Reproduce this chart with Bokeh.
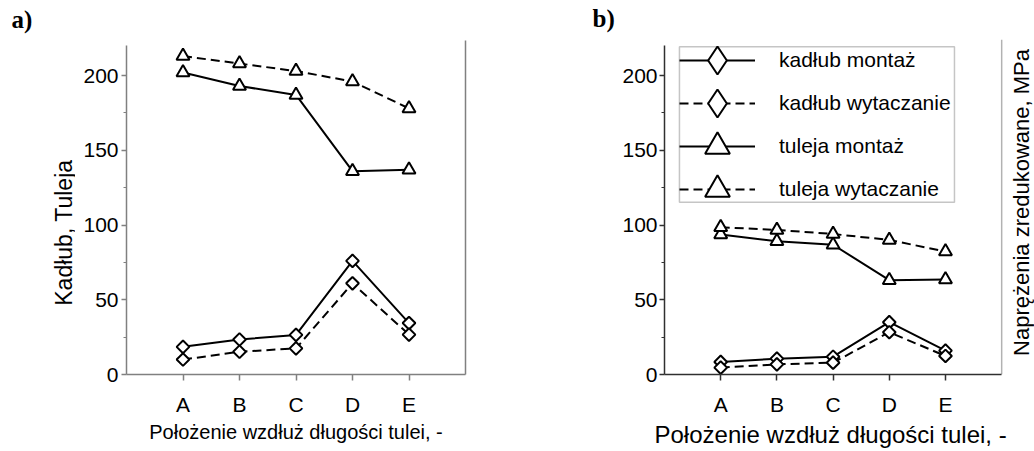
import math
from bokeh.plotting import figure
from bokeh.models import (Range1d, FixedTicker, LinearAxis, Label, Legend,
                          LegendItem, BoxAnnotation, Title)
from bokeh.layouts import row
from bokeh.embed import file_html
from bokeh.resources import INLINE

# ---- data ----
positions = ["A", "B", "C", "D", "E"]
y_ticks = [0, 50, 100, 150, 200]

a_kadlub_montaz = [18.5, 23.4, 26.5, 76.0, 34.4]
a_kadlub_wytaczanie = [10.0, 15.2, 17.5, 61.0, 26.7]
a_tuleja_montaz = [202.0, 193.0, 187.0, 136.0, 137.0]
a_tuleja_wytaczanie = [213.0, 208.0, 203.0, 196.0, 178.0]

b_kadlub_montaz = [8.4, 10.6, 11.9, 35.0, 16.0]
b_kadlub_wytaczanie = [4.6, 6.8, 7.9, 28.3, 12.4]
b_tuleja_montaz = [93.6, 89.2, 86.8, 63.1, 63.6]
b_tuleja_wytaczanie = [98.5, 96.7, 94.0, 90.0, 82.3]

series_names = ["kadłub montaż", "kadłub wytaczanie", "tuleja montaż", "tuleja wytaczanie"]
x_title = "Położenie wzdłuż długości tulei, -"
y_title_a = "Kadłub, Tuleja"
y_title_b = "Naprężenia zredukowane, MPa"

FONT = "Liberation Sans"
xs = [i + 1 for i in range(len(positions))]
X_END = len(positions) + 1
Y_TOP = 220
minor = [(y_ticks[i] + y_ticks[i + 1]) / 2 for i in range(len(y_ticks) - 1)] + [y_ticks[-1] + 25]
minor = [m for m in minor if m < Y_TOP]

STYLES = [("square", "solid", math.pi / 4, 9), ("square", "9 5", math.pi / 4, 9),
          ("triangle", "solid", 0, 13), ("triangle", "9 5", 0, 13)]

# ---- layout geometry (pixels) ----
H = 451
BOTTOM = 74                 # frame bottom at y = 377
Y0_PX = H - BOTTOM          # 377
PX_PER_UNIT = (Y0_PX - 45.5) / Y_TOP
Y_END = Y0_PX / PX_PER_UNIT  # frame reaches the top of the canvas
X_PX = 339.0                 # pixels for X_END units


def base_figure(width, axis_color, left, right, x_end, std):
    p = figure(width=width, height=H, output_backend="svg", toolbar_location=None,
               x_range=Range1d(0, x_end), y_range=Range1d(0, Y_END),
               min_border_left=left, min_border_right=right,
               min_border_top=0, min_border_bottom=BOTTOM)
    p.outline_line_color = None
    p.grid.visible = False

    xa = p.xaxis[0]
    xa.ticker = FixedTicker(ticks=xs)
    xa.bounds = (0, X_END)
    xa.major_label_overrides = {x: lab for x, lab in zip(xs, positions)}
    xa.major_tick_in = 0
    xa.major_tick_out = 6
    xa.major_label_standoff = 12
    xa.major_label_text_font = FONT
    xa.major_label_text_font_size = "21px"

    ya = p.yaxis[0]
    ya.ticker = FixedTicker(ticks=y_ticks, minor_ticks=minor)
    ya.bounds = (0, Y_TOP)
    ya.major_tick_in = 0
    ya.major_tick_out = 5
    ya.minor_tick_in = 0
    ya.minor_tick_out = 3
    ya.major_label_standoff = std
    ya.major_label_text_font = FONT
    ya.major_label_text_font_size = "21px"

    for ax in (xa, ya):
        ax.axis_line_color = axis_color
        ax.axis_line_width = 1.5
        ax.major_tick_line_color = axis_color
        ax.major_tick_line_width = 1.5
        ax.major_label_text_color = "black"
    xa.minor_tick_line_color = None
    ya.minor_tick_line_color = axis_color
    return p


def draw_series(p, series):
    renderers = []
    for ys, (mk, dash, ang, sz) in zip(series, STYLES):
        lr = p.line(xs, ys, line_color="black", line_width=2, line_dash=dash)
        sr = p.scatter(xs, ys, marker=mk, angle=ang, size=sz, fill_color="white",
                       line_color="black", line_width=2)
        renderers.append((lr, sr))
    return renderers


def below_title(text, size, align, offset):
    return Title(text=text, align=align, offset=offset, vertical_align="top",
                 standoff=4, text_font=FONT, text_font_style="normal",
                 text_font_size=size, text_color="black")


def strip(width):
    s = figure(width=width, height=H, output_backend="svg", toolbar_location=None,
               x_range=Range1d(0, width), y_range=Range1d(BOTTOM, H),
               x_axis_type=None, y_axis_type=None,
               min_border_left=0, min_border_right=0, min_border_top=0,
               min_border_bottom=BOTTOM)
    s.outline_line_color = None
    s.grid.visible = False
    return s


def tag(text, x, y_px):
    return Label(x=x, y=H - y_px, text=text, text_font="Liberation Serif",
                 text_font_style="bold", text_font_size="25px", text_color="black",
                 text_align="left", text_baseline="middle")


# ---------------- strip a: tag and y title of panel a ----------------
STRIP_A = 75
sa = strip(STRIP_A)
sa.add_layout(tag("a)", 11, 19))
sa.add_layout(Label(x=63, y=H - 234, text=y_title_a, text_font=FONT, text_font_size="23px",
                    text_color="black", angle=math.pi / 2, text_align="center",
                    text_baseline="middle"))

# ---------------- panel a ----------------
pa = base_figure(517 - STRIP_A, "#808080", 126 - STRIP_A, 52, X_END, 3)
draw_series(pa, [a_kadlub_montaz, a_kadlub_wytaczanie, a_tuleja_montaz, a_tuleja_wytaczanie])
pa.add_layout(LinearAxis(ticker=FixedTicker(ticks=[]), bounds=(0, 223.5),
                         axis_line_color="#808080", axis_line_width=1.5,
                         major_tick_line_color=None, minor_tick_line_color=None,
                         major_label_text_font_size="0px"), "right")
pa.add_layout(below_title(x_title, "20px", "center", 0), "below")

# ---------------- strip b: tag of panel b ----------------
STRIP_B = 102
sb = strip(STRIP_B)
sb.add_layout(tag("b)", 75, 18))

# ---------------- panel b ----------------
PB_W = 517 - STRIP_B
PB_LEFT = 662 - 517 - STRIP_B
x_end_b = X_END * (PB_W - PB_LEFT) / X_PX
pb = base_figure(PB_W, "#303030", PB_LEFT, 0, x_end_b, 2)
pb.add_layout(below_title(x_title, "24px", "left", -10), "below")
rends_b = draw_series(pb, [b_kadlub_montaz, b_kadlub_wytaczanie, b_tuleja_montaz, b_tuleja_wytaczanie])
# right border line of panel b
pb.add_layout(BoxAnnotation(left=X_END, right=X_END, bottom=0, top=224,
                            fill_alpha=0, line_color="#000000", line_width=1.5))
pb.add_layout(Label(x=357, y=Y0_PX - 205, x_units="screen", y_units="screen",
                    text=y_title_b, text_font=FONT, text_font_size="22px",
                    text_color="black", angle=math.pi / 2, text_align="center",
                    text_baseline="middle"))

# legend frame
pb.add_layout(BoxAnnotation(left=0.266, right=5.16, top=219.2, bottom=115.2,
                            fill_color="white", fill_alpha=1.0,
                            line_color="#404040", line_width=1.5))

# legend: one Legend per row so that the markers can be large
b_series = [b_kadlub_montaz, b_kadlub_wytaczanie, b_tuleja_montaz, b_tuleja_wytaczanie]
row_centers = [63, 106, 149, 192]
for i, (name, ys, (lr, sr)) in enumerate(zip(series_names, b_series, rends_b)):
    mk, dash, ang, sz = STYLES[i]
    if mk == "square":
        leg_r = pb.scatter(xs, ys, marker="diamond", size=sz, fill_color="white",
                           line_color="black", line_width=2, visible=False)
        gh = 70
    else:
        leg_r = sr
        gh = 62
    c = row_centers[i]
    vy = Y0_PX - c - gh / 2
    leg = Legend(items=[LegendItem(label=name, renderers=[lr, leg_r])],
                 location=(15, vy), orientation="vertical",
                 glyph_width=76, glyph_height=gh, spacing=0, padding=0, margin=0,
                 label_standoff=24, label_text_font=FONT, label_text_font_size="21px",
                 label_text_color="black",
                 border_line_alpha=0, background_fill_alpha=0)
    pb.add_layout(leg)

layout = row(sa, pa, sb, pb)
open("out.html", "w").write(file_html(layout, INLINE))
